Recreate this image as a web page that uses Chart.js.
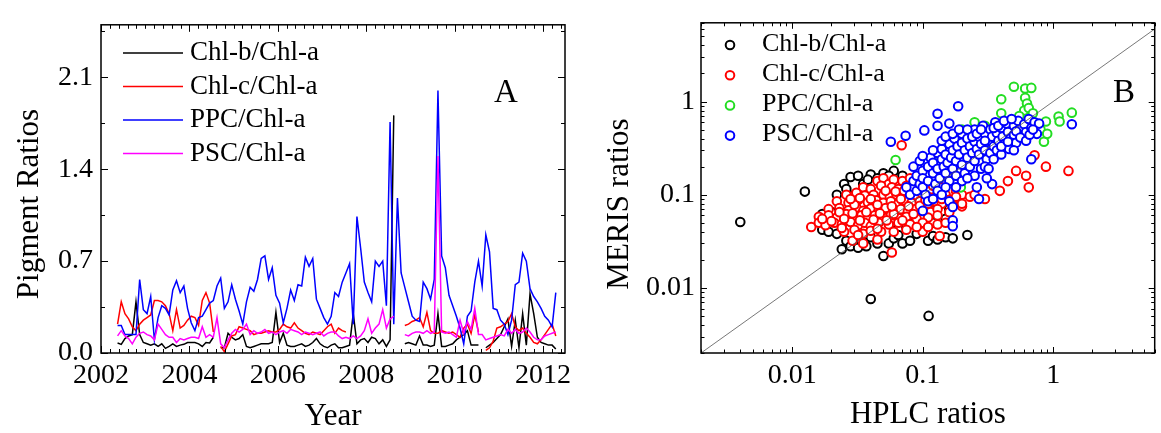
<!DOCTYPE html>
<html><head><meta charset="utf-8">
<script src="https://cdn.jsdelivr.net/npm/chart.js@4.4.1/dist/chart.umd.min.js"></script>
<style>
html,body{margin:0;padding:0;background:#fff;}
#wrap{position:relative;width:1161px;height:433px;overflow:hidden;background:#fff;}
#cA{position:absolute;left:0;top:0;width:580px;height:433px;}
#cB{position:absolute;left:580px;top:0;width:581px;height:433px;}
</style></head><body>
<div id="wrap"><canvas id="cA" width="580" height="433"></canvas><canvas id="cB" width="581" height="433"></canvas></div>
<script>
// ---------- Panel A data (monthly, starting May 2002) ----------
const seriesNames = ['Chl-b/Chl-a', 'Chl-c/Chl-a', 'PPC/Chl-a', 'PSC/Chl-a'];
const scatterNames = ['Chl-b/Chl-a', 'Chl-c/Chl-a', 'PPC/Chl-a', 'PSC/Chl-a'];
const startYear = 2002.375;
const chlb = [0.076,0.066,0.11,0.13,0.14,0.39,0.14,0.08,0.07,0.06,0.07,0.05,0.07,0.035,0.05,0.07,0.05,0.06,0.066,0.08,
  0.08,0.08,0.07,0.05,0.08,0.076,0.12,null,0.04,0.04,0.15,0.12,0.10,0.11,0.14,0.05,0.04,0.05,0.06,0.07,
  0.07,0.07,0.08,0.31,0.08,0.15,0.06,0.05,0.05,0.06,0.07,0.05,0.06,0.08,0.11,0.07,0.05,0.04,0.06,0.07,
  0.04,0.04,0.05,0.06,0.30,0.07,0.10,0.11,0.08,0.12,0.11,0.07,0.10,0.05,0.10,1.81,null,null,0.07,0.08,
  0.07,0.06,0.13,0.06,0.06,0.05,0.06,0.30,0.05,0.05,0.06,0.07,0.10,0.12,0.14,0.17,0.06,0.06,0.06,null,
  0.04,0.06,0.08,0.11,0.14,0.20,0.26,0.05,0.25,0.04,0.30,0.06,0.45,0.30,0.12,0.08,0.07,0.06,0.06,0.03];
const chlc = [0.22,0.39,0.30,0.26,0.20,0.17,0.22,0.25,0.27,0.29,0.40,0.40,0.39,0.36,0.30,0.17,0.33,0.19,0.21,0.25,
  0.28,0.27,0.21,0.40,0.46,0.38,0.16,null,0.05,0.01,0.07,0.13,0.14,0.20,0.19,0.18,0.17,0.14,0.15,0.15,
  0.16,0.17,0.16,0.16,0.18,0.22,0.20,0.19,0.23,0.19,0.17,0.15,0.14,0.16,0.15,0.14,0.17,0.20,0.22,0.15,
  0.19,0.17,0.16,null,null,null,null,null,null,null,null,null,null,null,null,null,null,null,0.21,0.22,
  0.24,0.25,0.27,0.20,0.31,0.17,0.15,0.15,0.17,0.16,0.15,0.16,0.14,0.12,0.19,0.22,0.15,0.29,0.16,null,
  0.02,0.04,0.09,0.19,0.20,0.22,0.24,0.30,0.20,0.17,0.19,0.15,0.12,0.08,0.07,0.10,0.14,0.18,0.22,0.13];
const ppc = [0.21,0.21,0.14,0.14,0.14,0.14,0.56,0.33,0.30,0.43,0.10,0.27,0.36,0.34,0.29,0.48,0.55,0.46,0.51,0.34,
  0.23,0.17,0.27,0.28,0.33,0.38,0.40,0.51,0.57,0.34,0.39,0.52,0.41,0.32,0.22,0.39,0.50,0.47,0.56,0.72,
  0.74,0.56,0.65,0.44,0.38,0.23,0.34,0.48,0.40,0.52,0.51,0.73,0.66,0.72,0.41,0.34,0.27,0.22,0.28,0.46,
  0.43,0.54,0.61,0.68,0.22,1.04,0.80,0.54,0.46,0.39,0.70,0.66,0.70,0.36,1.76,0.22,1.18,0.61,0.50,0.39,
  0.28,0.25,0.24,0.54,0.49,0.41,0.56,2.00,0.74,0.65,0.44,0.36,0.28,0.19,0.07,0.28,0.32,0.54,0.70,0.51,
  0.90,0.77,0.34,0.33,0.25,0.22,0.14,0.25,0.52,0.54,0.76,0.70,0.49,0.43,0.39,0.34,0.28,0.25,0.20,0.46];
const psc = [0.13,0.17,0.13,0.11,0.07,0.12,0.15,0.16,0.14,0.13,0.10,0.22,0.18,0.14,0.12,0.12,0.08,0.11,0.10,0.11,
  0.12,0.12,0.11,0.20,0.12,0.14,0.12,0.27,0.07,0.04,0.10,0.15,0.18,0.16,0.18,0.22,0.14,0.17,0.15,0.16,
  0.18,0.15,0.16,0.14,0.16,0.17,0.15,0.18,0.17,0.16,0.14,0.16,0.15,0.14,0.15,0.16,0.13,0.15,0.16,0.16,
  0.13,0.11,0.12,0.11,0.13,0.11,0.13,0.17,0.26,0.15,0.19,0.22,0.33,0.19,0.26,0.28,null,null,0.14,0.13,
  0.15,0.16,0.16,0.15,0.17,0.15,0.16,1.50,0.16,0.15,0.16,0.14,0.12,0.25,0.15,0.24,0.18,0.34,0.14,0.14,
  0.10,0.11,0.12,0.13,0.14,0.13,0.18,0.15,0.18,0.15,0.16,0.19,0.16,0.12,0.10,0.10,0.13,0.14,0.15,0.16];
const xTicksA = [2002, 2004, 2006, 2008, 2010, 2012];
const xMinorA = [2002.2,2002.4,2002.6,2002.8,2003,2003.2,2003.4,2003.6,2003.8,
  2004.2,2004.4,2004.6,2004.8,2005,2005.2,2005.4,2005.6,2005.8,
  2006.2,2006.4,2006.6,2006.8,2007,2007.2,2007.4,2007.6,2007.8,
  2008.2,2008.4,2008.6,2008.8,2009,2009.2,2009.4,2009.6,2009.8,
  2010.2,2010.4,2010.6,2010.8,2011,2011.2,2011.4,2011.6,2011.8,2012.2,2012.4];
const yTicksA = [0, 0.7, 1.4, 2.1];
const yMinorA = [0.35, 1.05, 1.75, 2.45];

// ---------- Panel B data: [HPLC ratio, MERIS ratio] ----------
const chlbPts = [[0.004,0.051],[0.0125,0.108],[0.04,0.0076],[0.111,0.005],
  [0.025,0.13],[0.028,0.155],[0.032,0.16],[0.035,0.13],[0.04,0.165],[0.045,0.15],[0.05,0.17],[0.06,0.18],[0.03,0.1],[0.022,0.1],
  [0.02,0.065],[0.017,0.062],[0.055,0.16],[0.07,0.16],[0.026,0.115],[0.038,0.145],
  [0.017,0.042],[0.019,0.04],[0.022,0.038],[0.024,0.026],[0.026,0.032],[0.028,0.028],[0.032,0.027],[0.034,0.032],[0.037,0.028],
  [0.04,0.035],[0.045,0.03],[0.05,0.022],[0.055,0.03],[0.06,0.034],[0.065,0.037],[0.07,0.03],[0.08,0.032],[0.09,0.038],[0.1,0.042],
  [0.11,0.032],[0.12,0.036],[0.13,0.033],[0.15,0.035],[0.17,0.034],[0.22,0.037],[0.075,0.045],[0.085,0.05],[0.12,0.05],[0.15,0.055],
  [0.1,0.06],[0.13,0.075],[0.16,0.07],[0.08,0.075],[0.06,0.05]];
const chlcPts = [[0.045,0.14],[0.05,0.15],[0.055,0.13],[0.06,0.145],[0.07,0.14],[0.08,0.15],[0.09,0.14],
  [0.035,0.12],[0.04,0.115],[0.048,0.125],[0.058,0.12],[0.065,0.115],[0.075,0.125],[0.085,0.12],[0.1,0.13],[0.12,0.125],[0.14,0.12],
  [0.026,0.1],[0.031,0.105],[0.036,0.098],[0.042,0.1],[0.05,0.1],[0.056,0.095],[0.063,0.1],[0.07,0.095],[0.08,0.1],[0.09,0.098],
  [0.1,0.1],[0.11,0.095],[0.13,0.1],[0.15,0.1],[0.18,0.11],[0.2,0.1],
  [0.022,0.085],[0.027,0.082],[0.032,0.088],[0.038,0.083],[0.044,0.087],[0.05,0.082],[0.057,0.085],[0.065,0.08],[0.073,0.086],
  [0.082,0.082],[0.095,0.085],[0.11,0.08],[0.125,0.085],[0.14,0.08],[0.17,0.077],
  [0.019,0.07],[0.023,0.072],[0.027,0.068],[0.031,0.073],[0.035,0.067],[0.04,0.071],[0.046,0.068],[0.052,0.072],[0.06,0.067],
  [0.068,0.07],[0.077,0.066],[0.088,0.07],[0.1,0.068],[0.115,0.065],[0.13,0.07],
  [0.016,0.058],[0.019,0.06],[0.022,0.057],[0.026,0.062],[0.03,0.058],[0.034,0.06],[0.038,0.056],[0.043,0.06],[0.05,0.057],
  [0.057,0.06],[0.065,0.056],[0.075,0.058],[0.09,0.055],[0.11,0.057],[0.13,0.06],
  [0.014,0.045],[0.016,0.05],[0.018,0.047],[0.021,0.05],[0.024,0.048],[0.028,0.051],[0.032,0.047],[0.036,0.05],[0.04,0.046],
  [0.046,0.05],[0.055,0.048],[0.065,0.05],[0.08,0.048],[0.1,0.05],[0.13,0.048],
  [0.025,0.04],[0.03,0.042],[0.035,0.038],[0.04,0.041],[0.048,0.04],[0.06,0.04],[0.075,0.042],[0.1,0.04],[0.135,0.036],
  [0.029,0.032],[0.035,0.03],[0.058,0.024],[0.045,0.033],
  [0.017,0.055],[0.02,0.052],[0.023,0.065],[0.025,0.055],[0.029,0.063],[0.033,0.053],[0.037,0.065],[0.042,0.054],[0.047,0.063],
  [0.053,0.053],[0.06,0.062],[0.07,0.053],[0.078,0.075],[0.085,0.062],[0.095,0.076],[0.105,0.088],[0.12,0.093],[0.14,0.09],
  [0.16,0.088],[0.18,0.095],[0.03,0.078],[0.04,0.09],[0.052,0.11],[0.062,0.108],[0.072,0.11],[0.033,0.092],[0.028,0.09],
  [0.045,0.078],[0.058,0.075],[0.068,0.09],[0.16,0.065],[0.2,0.075],[0.23,0.095],[0.09,0.045],[0.11,0.045],[0.15,0.05],
  [0.045,0.043],[0.024,0.044],[0.032,0.037],
  [0.069,0.34],[0.3,0.09],[0.39,0.11],[0.88,0.2],[1.31,0.18],[0.62,0.16],[0.65,0.12],[0.52,0.18],[0.72,0.265],[0.25,0.1],[0.45,0.14],[0.2,0.08]];
const ppcPts = [[0.5,1.44],[0.61,1.38],[0.68,1.4],[0.4,1.06],[0.61,1.1],[0.63,0.95],[0.4,0.75],[0.6,0.8],[0.65,0.85],[0.7,0.75],
  [1.1,0.69],[1.39,0.76],[1.12,0.61],[0.85,0.37],[0.88,0.61],[0.8,0.5],[0.55,0.7],[0.45,0.6],[0.3,0.55],[0.35,0.45],[0.25,0.35],
  [0.2,0.3],[0.062,0.236],[0.196,0.12],[0.15,0.2],[0.12,0.25],[0.3,0.35],[0.5,0.4],[0.7,0.55],[0.9,0.45],[0.25,0.6],[0.2,0.5]];
const pscPts = [[0.075,0.12],[0.08,0.1],[0.085,0.14],[0.09,0.16],[0.09,0.11],[0.095,0.13],[0.1,0.18],[0.1,0.15],[0.1,0.12],[0.105,0.1],
  [0.11,0.2],[0.11,0.14],[0.115,0.25],[0.12,0.17],[0.12,0.22],[0.125,0.13],[0.13,0.28],[0.13,0.19],[0.135,0.15],[0.14,0.24],
  [0.14,0.31],[0.145,0.2],[0.15,0.17],[0.15,0.27],[0.155,0.22],[0.16,0.35],[0.16,0.14],[0.165,0.25],[0.17,0.3],[0.17,0.19],
  [0.175,0.4],[0.18,0.23],[0.18,0.16],[0.185,0.33],[0.19,0.27],[0.2,0.21],[0.2,0.45],[0.2,0.36],[0.21,0.3],[0.21,0.17],
  [0.22,0.25],[0.22,0.4],[0.23,0.33],[0.23,0.2],[0.24,0.28],[0.25,0.5],[0.25,0.37],[0.25,0.23],[0.26,0.31],[0.27,0.42],
  [0.27,0.27],[0.28,0.19],[0.28,0.35],[0.29,0.55],[0.3,0.3],[0.3,0.45],[0.31,0.24],[0.32,0.38],[0.33,0.5],[0.33,0.28],
  [0.34,0.42],[0.35,0.33],[0.36,0.6],[0.37,0.46],[0.37,0.3],[0.38,0.38],[0.4,0.52],[0.4,0.27],[0.41,0.42],[0.42,0.35],
  [0.44,0.58],[0.45,0.47],[0.46,0.31],[0.47,0.4],[0.5,0.55],[0.5,0.44],[0.52,0.36],[0.54,0.62],[0.55,0.5],[0.58,0.42],
  [0.6,0.57],[0.62,0.47],[0.65,0.65],[0.68,0.52],[0.72,0.6],[0.75,0.45],[0.78,0.58],
  [0.085,0.2],[0.095,0.23],[0.1,0.26],[0.12,0.3],[0.14,0.38],[0.15,0.42],[0.17,0.45],[0.19,0.5],[0.22,0.5],[0.24,0.42],
  [0.26,0.45],[0.28,0.5],[0.3,0.38],[0.35,0.52],[0.38,0.55],[0.42,0.62],[0.48,0.65],[0.52,0.48],[0.56,0.41],[0.62,0.38],
  [0.66,0.44],[0.7,0.5],[0.25,0.16],[0.2,0.14],[0.3,0.2],[0.35,0.24],[0.4,0.33],[0.45,0.37],[0.5,0.3],[0.13,0.11],
  [0.15,0.12],[0.18,0.12],[0.11,0.085],[0.14,0.1],[0.26,0.12],[0.32,0.19],
  [0.057,0.37],[0.074,0.43],[0.187,0.89],[0.13,0.74],[0.103,0.49],[0.13,0.55],[0.16,0.58],[1.39,0.57],[0.68,0.24],[0.34,0.13],
  [0.31,0.15],[0.16,0.085],[0.1,0.067],[0.17,0.074],[0.17,0.053],[0.17,0.046],[0.27,0.09],[0.22,0.15],[0.12,0.09]];
const oneToOne = [[0.002,0.002],[6,6]];
const logMajor = [0.01, 0.1, 1];
const logMinorX = [0.002,0.003,0.004,0.005,0.006,0.007,0.008,0.009,0.02,0.03,0.04,0.05,0.06,0.07,0.08,0.09,
  0.2,0.3,0.4,0.5,0.6,0.7,0.8,0.9,2,3,4,5,6];
const logMinorY = [0.002,0.003,0.004,0.005,0.006,0.007,0.008,0.009,0.02,0.03,0.04,0.05,0.06,0.07,0.08,0.09,
  0.2,0.3,0.4,0.5,0.6,0.7,0.8,0.9,2,3,4,5,6,7];

// ---------- helpers ----------
const FONT = "'Liberation Serif','Times New Roman',serif";
Chart.defaults.font.family = FONT;
Chart.defaults.color = '#000';
const months = chlb.map((_, i) => startYear + i / 12);
const toXY = arr => arr.map((v, i) => ({x: months[i], y: v}));
const ptsXY = arr => arr.map(p => ({x: p[0], y: p[1]}));

function frameTicks(spec) {
  return {
    id: 'frameTicks',
    afterDatasetsDraw(chart) {
      const {ctx, chartArea: a, scales} = chart;
      ctx.save();
      ctx.strokeStyle = '#000';
      ctx.lineWidth = 1;
      const xs = scales.x, ys = scales.y;
      const drawX = (vals, len) => vals.forEach(v => {
        const px = Math.round(xs.getPixelForValue(v)) + 0.5;
        if (px < a.left - 1 || px > a.right + 1) return;
        ctx.beginPath();
        ctx.moveTo(px, a.bottom); ctx.lineTo(px, a.bottom - len);
        ctx.moveTo(px, a.top); ctx.lineTo(px, a.top + len);
        ctx.stroke();
      });
      const drawY = (vals, len) => vals.forEach(v => {
        const py = Math.round(ys.getPixelForValue(v)) + 0.5;
        if (py < a.top - 1 || py > a.bottom + 1) return;
        ctx.beginPath();
        ctx.moveTo(a.left, py); ctx.lineTo(a.left + len, py);
        ctx.moveTo(a.right, py); ctx.lineTo(a.right - len, py);
        ctx.stroke();
      });
      drawX(spec.xMajor, spec.majorLen); drawX(spec.xMinor, spec.minorLen);
      drawY(spec.yMajor, spec.majorLen); drawY(spec.yMinor, spec.minorLen);
      ctx.lineWidth = 1.5;
      ctx.strokeRect(a.left, a.top, a.right - a.left, a.bottom - a.top);
      ctx.restore();
    }
  };
}

function overlayText(spec) {
  return {
    id: 'overlayText',
    afterDraw(chart) {
      const {ctx} = chart;
      ctx.save();
      ctx.font = spec.legendSize + 'px ' + FONT;
      ctx.textBaseline = 'middle';
      ctx.textAlign = 'left';
      chart.data.datasets.forEach((ds, i) => {
        if (ds.legend === false) return;
        const y = spec.legendY + i * spec.legendDy;
        if (spec.kind === 'line') {
          ctx.strokeStyle = ds.borderColor; ctx.lineWidth = 1.7;
          ctx.beginPath(); ctx.moveTo(spec.symX0, y); ctx.lineTo(spec.symX1, y); ctx.stroke();
        } else {
          ctx.strokeStyle = ds.borderColor; ctx.lineWidth = 2; ctx.fillStyle = '#fff';
          ctx.beginPath(); ctx.arc(spec.symX0, y + 1, 4.3, 0, Math.PI * 2); ctx.fill(); ctx.stroke();
        }
        ctx.fillStyle = '#000';
        ctx.fillText(ds.label, spec.textX, y);
      });
      // panel letter
      ctx.font = spec.letterSize + 'px ' + FONT;
      ctx.textAlign = 'center';
      ctx.textBaseline = 'alphabetic';
      ctx.fillText(spec.letter, spec.letterX, spec.letterY);
      // rotated y-axis title
      ctx.font = spec.titleSize + 'px ' + FONT;
      ctx.translate(spec.yTitleX, spec.yTitleY);
      ctx.rotate(-Math.PI / 2);
      ctx.fillText(spec.yTitle, 0, 0);
      ctx.restore();
    }
  };
}

const tickFont = {family: FONT, size: 28};
const titleFont = {family: FONT, size: 31, lineHeight: 1};

// ---------- Panel A ----------
new Chart(document.getElementById('cA'), {
  type: 'line',
  data: {datasets: [
    {label: seriesNames[0], data: toXY(chlb), borderColor: '#000000', order: 4},
    {label: seriesNames[1], data: toXY(chlc), borderColor: '#ff0000', order: 3},
    {label: seriesNames[2], data: toXY(ppc), borderColor: '#0000ff', order: 2},
    {label: seriesNames[3], data: toXY(psc), borderColor: '#ff00ff', order: 1}
  ]},
  options: {
    responsive: false, animation: false, devicePixelRatio: 1,
    layout: {padding: {top: 12, right: 15, left: 0, bottom: 0}},
    elements: {point: {radius: 0}, line: {borderWidth: 1.5, tension: 0}},
    spanGaps: false,
    plugins: {legend: {display: false}, tooltip: {enabled: false}},
    scales: {
      x: {type: 'linear', min: 2002, max: 2012.5,
        afterBuildTicks: s => { s.ticks = xTicksA.map(v => ({value: v})); },
        afterFit: s => { s.height = 80; },
        grid: {display: false, drawTicks: false}, border: {display: false},
        ticks: {font: tickFont, color: '#000', padding: 6, maxRotation: 0, autoSkip: false, callback: v => String(v)},
        title: {display: true, text: 'Year', font: titleFont, color: '#000', padding: {top: 0, bottom: 1}}},
      y: {type: 'linear', min: 0, max: 2.5,
        afterBuildTicks: s => { s.ticks = yTicksA.map(v => ({value: v})); },
        afterFit: s => { s.width = 101; },
        grid: {display: false, drawTicks: false}, border: {display: false},
        ticks: {font: tickFont, color: '#000', padding: 8, callback: v => Number(v).toFixed(1)},
        title: {display: false}}
    }
  },
  plugins: [
    frameTicks({xMajor: xTicksA, xMinor: xMinorA, yMajor: yTicksA, yMinor: yMinorA, majorLen: 7, minorLen: 4}),
    overlayText({kind: 'line', legendSize: 27, legendY: 53, legendDy: 33.5, symX0: 123, symX1: 183, textX: 190,
      letter: 'A', letterSize: 33, letterX: 506, letterY: 102,
      yTitle: 'Pigment Ratios', titleSize: 31, yTitleX: 38, yTitleY: 204})
  ]
});

// ---------- Panel B ----------
const circle = (color, order) => ({borderColor: color, backgroundColor: '#ffffff', pointRadius: 4.3, pointBorderWidth: 2, order});
new Chart(document.getElementById('cB'), {
  type: 'scatter',
  data: {datasets: [
    Object.assign({label: scatterNames[0], data: ptsXY(chlbPts)}, circle('#000000', 5)),
    Object.assign({label: scatterNames[1], data: ptsXY(chlcPts)}, circle('#ff0000', 4)),
    Object.assign({label: scatterNames[2], data: ptsXY(ppcPts)}, circle('#22dd22', 3)),
    Object.assign({label: scatterNames[3], data: ptsXY(pscPts)}, circle('#0000ff', 2)),
    {type: 'line', label: '1:1', legend: false, data: ptsXY(oneToOne), borderColor: '#555555', borderWidth: 0.8,
      pointRadius: 0, order: 1}
  ]},
  options: {
    responsive: false, animation: false, devicePixelRatio: 1,
    layout: {padding: {top: 12, right: 1, left: 0, bottom: 0}},
    plugins: {legend: {display: false}, tooltip: {enabled: false}},
    scales: {
      x: {type: 'logarithmic', min: 0.002, max: 6,
        afterBuildTicks: s => { s.ticks = logMajor.map(v => ({value: v})); },
        afterFit: s => { s.height = 80; },
        grid: {display: false, drawTicks: false}, border: {display: false},
        ticks: {font: tickFont, color: '#000', padding: 6, maxRotation: 0, autoSkip: false, callback: v => String(v)},
        title: {display: true, text: 'HPLC ratios', font: titleFont, color: '#000', padding: {top: 0, bottom: 3}}},
      y: {type: 'logarithmic', min: 0.002, max: 7,
        afterBuildTicks: s => { s.ticks = logMajor.map(v => ({value: v})); },
        afterFit: s => { s.width = 121; },
        grid: {display: false, drawTicks: false}, border: {display: false},
        ticks: {font: tickFont, color: '#000', padding: 6, callback: v => String(v)},
        title: {display: false}}
    }
  },
  plugins: [
    frameTicks({xMajor: logMajor, xMinor: logMinorX, yMajor: logMajor, yMinor: logMinorY, majorLen: 6, minorLen: 3.5}),
    overlayText({kind: 'circle', legendSize: 26, legendY: 44, legendDy: 30.2, symX0: 150, textX: 182,
      letter: 'B', letterSize: 33, letterX: 544, letterY: 102,
      yTitle: 'MERIS ratios', titleSize: 31, yTitleX: 48, yTitleY: 204})
  ]
});
</script>
</body></html>
